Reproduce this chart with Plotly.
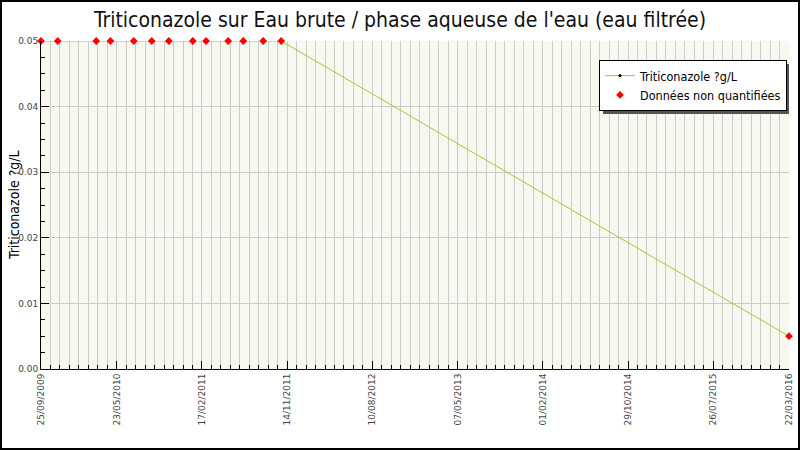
import plotly.graph_objects as go

# data
dates = ['2009-09-25', '2009-11-17', '2010-03-19', '2010-05-03', '2010-07-16',
         '2010-09-11', '2010-11-04', '2011-01-19', '2011-03-02', '2011-05-11',
         '2011-06-28', '2011-08-30', '2011-10-26', '2016-03-22']
values = [0.05, 0.05, 0.05, 0.05, 0.05, 0.05, 0.05, 0.05, 0.05, 0.05,
          0.05, 0.05, 0.05, 0.005]
nq_dates = dates  # all samples are non quantified
nq_values = values

tick_dates = ['2009-09-25', '2010-05-23', '2011-02-17', '2011-11-14', '2012-08-10',
              '2013-05-07', '2014-02-01', '2014-10-29', '2015-07-26', '2016-03-22']
tick_text = ['25/09/2009', '23/05/2010', '17/02/2011', '14/11/2011', '10/08/2012',
             '07/05/2013', '01/02/2014', '29/10/2014', '26/07/2015', '22/03/2016']

W, H = 800, 450
ml, mr, mt, mb = 41, 11, 41, 81
pw, ph = W - ml - mr, H - mt - mb

font = "DejaVu Sans Condensed, DejaVu Sans"

traces = []
traces.append(go.Scatter(x=dates, y=values, mode='lines+markers',
                         line=dict(color='#9acd32', width=1),
                         marker=dict(color='black', size=3, symbol='diamond'),
                         name='Triticonazole ?g/L', cliponaxis=False))
traces.append(go.Scatter(x=nq_dates, y=nq_values, mode='markers',
                         marker=dict(color='red', size=6, symbol='diamond'),
                         name='Données non quantifiées', cliponaxis=False))

fig = go.Figure(traces)

def px_x(p):
    return (p - ml) / pw

def px_y(p):
    return (H - mb - p) / ph

fig.update_layout(
    width=W, height=H,
    margin=dict(l=ml, r=mr, t=mt, b=mb, autoexpand=False),
    paper_bgcolor='white',
    plot_bgcolor='#f8f8f0',
    title=dict(text="Triticonazole sur Eau brute / phase aqueuse de l'eau (eau filtrée)",
               x=0.5, xanchor='center', y=0.957, yanchor='middle',
               font=dict(family=font, size=21, color='#111')),
    font=dict(family=font),
    showlegend=True,
    legend=dict(x=px_x(599), y=px_y(60), xanchor='left', yanchor='top',
                bgcolor='white', bordercolor='black', borderwidth=1,
                font=dict(family=font, size=12.5, color='black'),
                tracegroupgap=0, itemwidth=30),
    xaxis=dict(type='date', range=[dates[0], dates[-1]], automargin=False,
               tickmode='array', tickvals=tick_dates, ticktext=tick_text,
               tickangle=-90, ticks='inside', ticklen=8, tickcolor='black',
               tickfont=dict(family='DejaVu Sans', size=9, color='#444'),
               showgrid=True, gridcolor='#cccccc', gridwidth=1,
               showline=True, linecolor='black', linewidth=1, zeroline=False,
               minor=dict(tick0='2009-09-25', dtick=30 * 86400000, ticks='inside',
                          ticklen=4, tickcolor='black', showgrid=True,
                          gridcolor='#cccccc', gridwidth=1)),
    yaxis=dict(range=[0, 0.05], dtick=0.01, tickformat='.2f', automargin=False,
               ticks='inside', ticklen=8, tickcolor='black',
               tickfont=dict(family='DejaVu Sans', size=9, color='#444'),
               showgrid=True, gridcolor='#cccccc', gridwidth=1,
               showline=True, linecolor='black', linewidth=1, zeroline=False,
               minor=dict(dtick=0.0025, ticks='inside', ticklen=4,
                          tickcolor='black', showgrid=False)),
    annotations=[
        dict(text='Triticonazole ?g/L', xref='paper', yref='paper',
             x=px_x(14), y=0.5, textangle=-90, showarrow=False,
             xanchor='center', yanchor='middle',
             font=dict(family=font, size=14, color='black')),
    ],
    shapes=[
        # legend shadow
        dict(type='rect', xref='paper', yref='paper',
             x0=px_x(603), x1=px_x(789), y0=px_y(114), y1=px_y(64),
             fillcolor='#555', line=dict(width=0), layer='above'),
        # outer frame
        dict(type='rect', xref='paper', yref='paper',
             x0=px_x(1), x1=px_x(799), y0=px_y(449), y1=px_y(1),
             line=dict(color='black', width=2), fillcolor='rgba(0,0,0,0)'),
    ],
)

fig.write_html("out.html", config={'displayModeBar': False},
               post_script="document.body.style.margin='0';")
